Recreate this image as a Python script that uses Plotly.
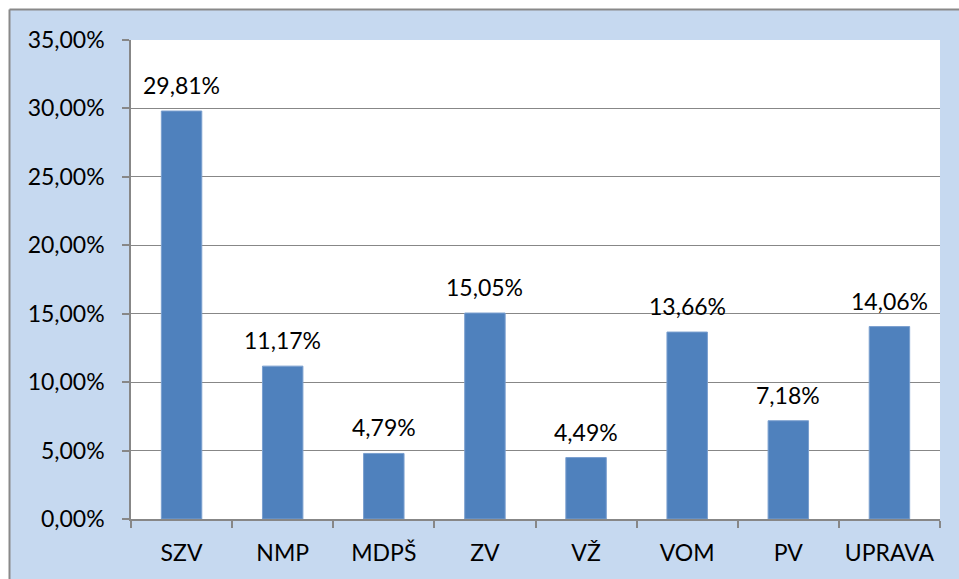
import plotly.graph_objects as go

categories = ["SZV", "NMP", "MDPŠ", "ZV", "VŽ", "VOM", "PV", "UPRAVA"]
values = [0.2981, 0.1117, 0.0479, 0.1505, 0.0449, 0.1366, 0.0718, 0.1406]
y_ticks = [0, 0.05, 0.10, 0.15, 0.20, 0.25, 0.30, 0.35]

W, H = 959, 579
ML, MT = 131, 40
PR, PB = 940, 519
MR, MB = W - PR, H - PB
PW, PH = PR - ML, PB - MT

def px_x(p):
    return (p - ML) / PW

def px_y(p):
    return (PB - p) / PH

FONT = "Lato"
FS = 23
BLUE_BG = "#C6D9F0"
GRID = "#878787"

fig = go.Figure()
fig.add_trace(go.Bar(
    x=categories, y=values,
    marker=dict(color="#4F81BD", line=dict(color="#7A9FCF", width=1)),
    hoverinfo="skip",
))

for c, v in zip(categories, values):
    fig.add_annotation(
        x=c, y=v, text=f"{v*100:.2f}%".replace(".", ","),
        showarrow=False, yanchor="middle", yshift=26,
        font=dict(family=FONT, size=FS, color="#000000"),
    )

b = 9.5
shapes = [
    dict(type="rect", xref="paper", yref="paper", x0=px_x(0), x1=px_x(b), y0=px_y(H), y1=px_y(0),
         fillcolor="white", line=dict(width=0), layer="below"),
    dict(type="rect", xref="paper", yref="paper", x0=px_x(0), x1=px_x(W), y0=px_y(b), y1=px_y(0),
         fillcolor="white", line=dict(width=0), layer="below"),
    dict(type="line", xref="paper", yref="paper", x0=px_x(b), x1=px_x(b), y0=px_y(H), y1=px_y(b),
         line=dict(color="#898989", width=2), layer="below"),
    dict(type="line", xref="paper", yref="paper", x0=px_x(b), x1=px_x(W), y0=px_y(b), y1=px_y(b),
         line=dict(color="#898989", width=2), layer="below"),
]

fig.update_layout(
    width=W, height=H,
    margin=dict(l=ML, r=MR, t=MT, b=MB, pad=0),
    paper_bgcolor=BLUE_BG, plot_bgcolor="white",
    separators=", ",
    showlegend=False,
    bargap=0.6,
    shapes=shapes,
    font=dict(family=FONT, size=FS, color="#000000"),
    xaxis=dict(
        type="category", tickson="boundaries",
        showline=True, linecolor=GRID, linewidth=1.5,
        ticks="outside", ticklen=7, tickcolor=GRID, tickwidth=1.5,
        showgrid=False, ticklabelstandoff=13,
        tickfont=dict(family=FONT, size=FS),
    ),
    yaxis=dict(
        range=[0, 0.35], tickvals=y_ticks, tickformat=".2%",
        showline=True, linecolor=GRID, linewidth=1.5,
        ticks="outside", ticklen=7, tickcolor=GRID, tickwidth=1.5,
        showgrid=True, gridcolor=GRID, gridwidth=1,
        zeroline=False, ticklabelstandoff=13,
        tickfont=dict(family=FONT, size=FS),
    ),
)

fig.write_html(
    "out.html",
    config={"displayModeBar": False},
    post_script="document.body.style.margin='0';document.body.style.overflow='hidden';",
)
